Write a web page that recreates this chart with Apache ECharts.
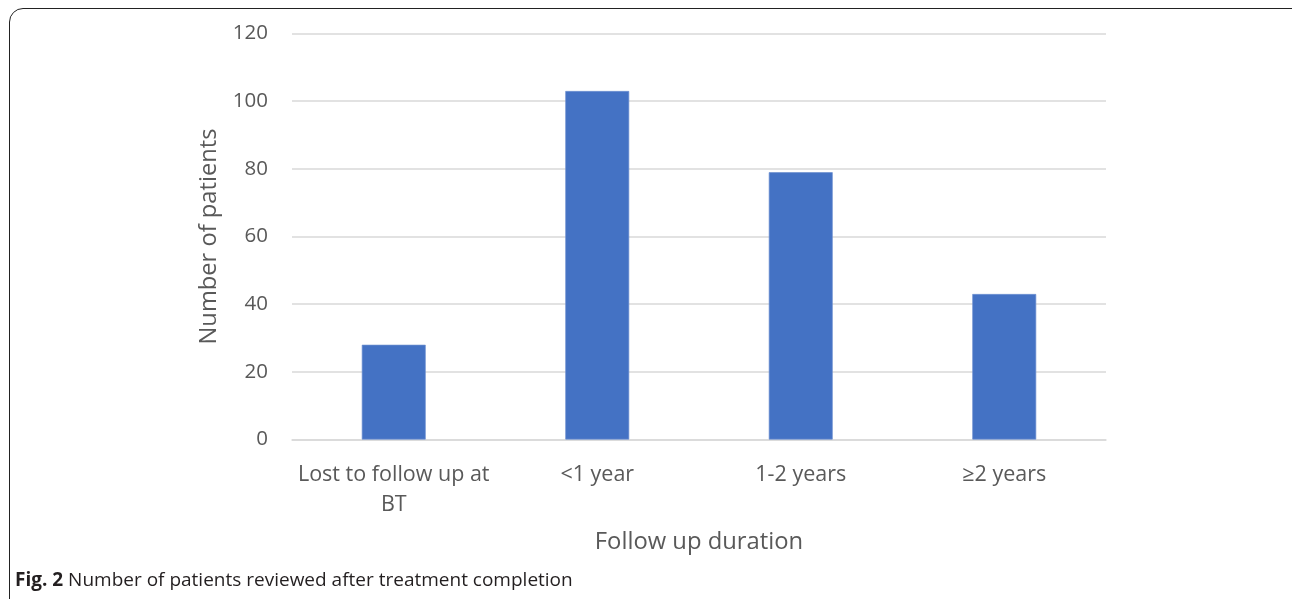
<!DOCTYPE html>
<html>
<head>
<meta charset="utf-8">
<script src="https://cdn.jsdelivr.net/npm/echarts@6/dist/echarts.min.js"></script>
<style>
  html, body { margin: 0; padding: 0; background: #fff; }
  #frame { position: absolute; left: 9px; top: 8px; width: 1300px; height: 620px; border: 1.5px solid #222; border-radius: 14px; box-sizing: border-box; }
  #chart { position: absolute; left: 0; top: 0; width: 1292px; height: 599px; }
</style>
</head>
<body>
<div id="frame"></div>
<div id="chart"></div>
<script>
const categories = ['Lost to follow up at\nBT', '<1 year', '1-2 years', '\u22652 years'];
const patients = [28, 103, 79, 43];
const yTicks = { min: 0, max: 120, interval: 20 };
const xTitle = 'Follow up duration';
const yTitle = 'Number of patients';
const caption = 'Number of patients reviewed after treatment completion';

const chart = echarts.init(document.getElementById('chart'));
const font = '"Open Sans", sans-serif';
chart.setOption({
  animation: false,
  title: {
    left: 10, top: 566,
    text: '{b|Fig. 2} ' + caption,
    textStyle: {
      fontFamily: font, fontSize: 19, color: '#231f20', fontWeight: 'normal',
      rich: { b: { fontFamily: font, fontSize: 19, fontWeight: 'bold', color: '#231f20' } }
    }
  },
  grid: { left: 292, right: 186, top: 33.5, bottom: 159.5 },
  xAxis: {
    type: 'category',
    data: categories,
    name: xTitle,
    nameLocation: 'middle',
    nameGap: 91,
    nameTextStyle: { fontFamily: font, fontSize: 23.8, color: '#595959' },
    axisLine: { lineStyle: { color: '#d9d9d9', width: 1.5 } },
    axisTick: { show: false },
    axisLabel: { interval: 0, fontFamily: font, fontSize: 21.5, color: '#595959', margin: 20, lineHeight: 30 }
  },
  yAxis: {
    type: 'value',
    min: yTicks.min, max: yTicks.max, interval: yTicks.interval,
    name: yTitle,
    nameLocation: 'middle',
    nameGap: 71,
    nameTextStyle: { fontFamily: font, fontSize: 23.7, color: '#595959' },
    axisLine: { show: false },
    axisTick: { show: false },
    axisLabel: { fontFamily: font, fontSize: 20.5, color: '#595959', margin: 24 },
    splitLine: { lineStyle: { color: '#d9d9d9', width: 1.5 } }
  },
  series: [{
    type: 'bar',
    data: patients,
    barWidth: '31.4%',
    itemStyle: { color: '#4472c4', borderColor: '#6d8fd0', borderWidth: 0.7 }
  }]
});
</script>
</body>
</html>
